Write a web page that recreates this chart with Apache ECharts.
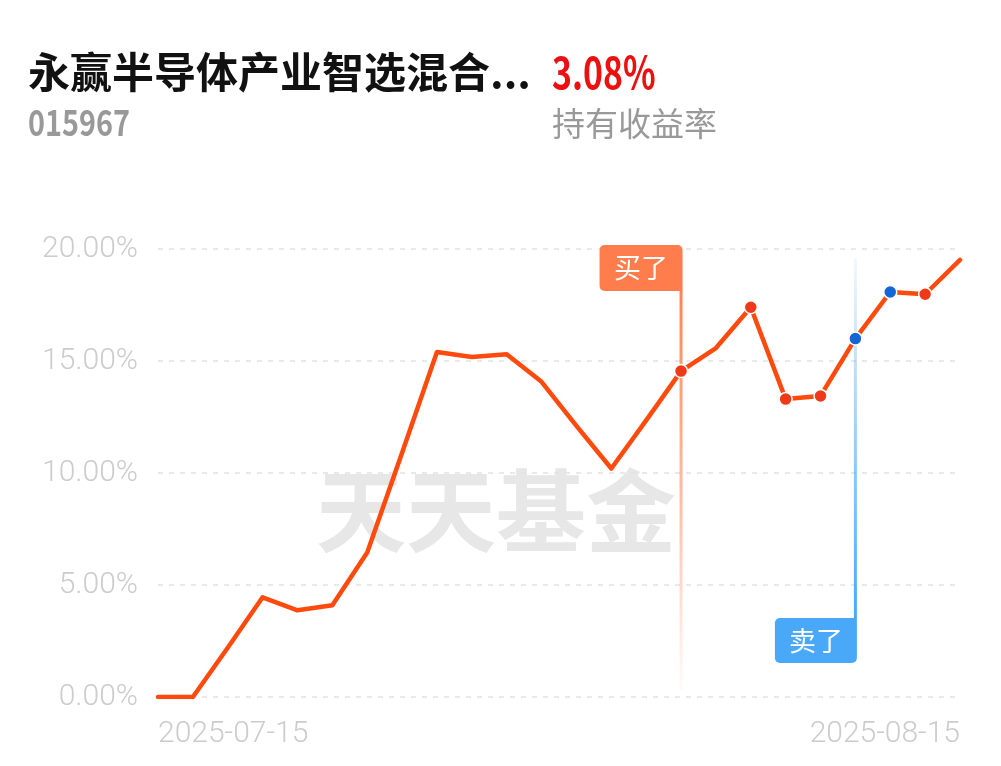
<!DOCTYPE html>
<html>
<head>
<meta charset="utf-8">
<script src="https://cdn.jsdelivr.net/npm/echarts@6/dist/echarts.min.js"></script>
<style>
html,body{margin:0;padding:0;background:#fff;}
#chart{width:1001px;height:766px;}
</style>
</head>
<body>
<div id="chart"></div>
<script>
const fundName = '永赢半导体产业智选混合...';
const fundCode = '015967';
const holdReturn = '3.08%';
const holdReturnLabel = '持有收益率';
const watermarkText = '天天基金';

const dates = ['2025-07-15','2025-07-16','2025-07-17','2025-07-18','2025-07-21','2025-07-22','2025-07-23','2025-07-24','2025-07-25','2025-07-28','2025-07-29','2025-07-30','2025-07-31','2025-08-01','2025-08-04','2025-08-05','2025-08-06','2025-08-07','2025-08-08','2025-08-11','2025-08-12','2025-08-13','2025-08-14','2025-08-15'];
const returns = [0, 0, 2.2, 4.45, 3.87, 4.1, 6.45, 10.9, 15.4, 15.18, 15.3, 14.07, 12.1, 10.2, 12.35, 14.55, 15.58, 17.4, 13.3, 13.44, 16.0, 18.08, 17.98, 19.51];
const yTicks = [0, 5, 10, 15, 20];
const redMarkerDates = ['2025-08-05','2025-08-07','2025-08-08','2025-08-11','2025-08-14'];
const blueMarkerDates = ['2025-08-12','2025-08-13'];
const buyDates = ['2025-08-05'];
const sellDates = ['2025-08-12'];
const buyText = '买了';
const sellText = '卖了';

const valueOf = d => returns[dates.indexOf(d)];
const chart = echarts.init(document.getElementById('chart'), null, {renderer: 'canvas'});

const tradeData = buyDates.map(d => [d, 'buy']).concat(sellDates.map(d => [d, 'sell']));
const boxText = (t) => ({
  textContent: {type: 'text', style: {text: t, fill: '#fff', font: '27px "Noto Sans CJK SC"'}},
  textConfig: {position: 'inside'}
});

const option = {
  animation: false,
  backgroundColor: '#fff',
  grid: {left: 158, right: 41, top: 249, bottom: 69, containLabel: false},
  graphic: [
    {type: 'text', left: 28, top: 51, z: 10, style: {text: fundName, font: 'bold 42px "Noto Sans CJK SC"', fill: '#111'}},
    {type: 'text', x: 552, y: 50, scaleX: 0.77, z: 10, style: {text: holdReturn, font: 'bold 44px "Noto Sans CJK SC"', fill: '#EC1010'}},
    {type: 'text', x: 28, y: 104, scaleX: 0.8, z: 10, style: {text: fundCode, font: 'bold 36px "Noto Sans CJK SC"', fill: '#999'}},
    {type: 'text', left: 552, top: 107, z: 10, style: {text: holdReturnLabel, font: '33px "Noto Sans CJK SC"', fill: '#999'}},
    {type: 'text', left: 316, top: 466, z: 0, style: {text: watermarkText, font: 'bold 90px "Noto Sans CJK SC"', fill: '#E7E7E7'}}
  ],
  xAxis: {
    type: 'category', data: dates, boundaryGap: false,
    axisLine: {show: false}, axisTick: {show: false}, splitLine: {show: false},
    axisLabel: {
      interval: (i) => i === 0 || i === dates.length - 1,
      formatter: (v, i) => (i === 0 || i === dates.length - 1) ? v : '',
      color: '#CCCCCC', fontFamily: 'Roboto', fontWeight: 300, fontSize: 30, margin: 22,
      alignMinLabel: 'left', alignMaxLabel: 'right'
    }
  },
  yAxis: {
    type: 'value', min: yTicks[0], max: yTicks[yTicks.length - 1], interval: yTicks[1] - yTicks[0],
    axisLine: {show: false}, axisTick: {show: false},
    axisLabel: {formatter: v => v.toFixed(2) + '%', color: '#CCCCCC', fontFamily: 'Roboto', fontWeight: 300, fontSize: 30, margin: 20},
    splitLine: {lineStyle: {color: '#E2E2E2', width: 1.5, type: [5, 6]}}
  },
  series: [
    {
      type: 'custom', z: 1, clip: false, silent: true,
      data: tradeData,
      renderItem: function (params, api) {
        const cs = params.coordSys;
        const idx = api.value(0);
        const kind = tradeData[params.dataIndex][1];
        const x = api.coord([idx, 0])[0];
        if (kind === 'buy') {
          const boxTop = cs.y - 4, boxH = 46, boxW = 83;
          const lineBottom = cs.y + cs.height - 7;
          return {type: 'group', children: [
            {type: 'rect', shape: {x: x - 1.5, y: boxTop + boxH, width: 3, height: lineBottom - boxTop - boxH},
              style: {fill: new echarts.graphic.LinearGradient(0, 0, 0, 1, [{offset: 0, color: 'rgba(255,124,76,0.95)'}, {offset: 0.55, color: 'rgba(255,140,100,0.55)'}, {offset: 1, color: 'rgba(255,160,130,0.05)'}])}},
            Object.assign({type: 'rect', shape: {x: x + 1.5 - boxW, y: boxTop, width: boxW, height: boxH, r: [5, 5, 0, 5]},
              style: {fill: '#FF7C4C'}}, boxText(buyText))
          ]};
        } else {
          const lineTop = cs.y + 9, boxTop = cs.y + cs.height - 79, boxH = 45, boxW = 82;
          return {type: 'group', children: [
            {type: 'rect', shape: {x: x - 1.5, y: lineTop, width: 3, height: boxTop - lineTop},
              style: {fill: new echarts.graphic.LinearGradient(0, 0, 0, 1, [{offset: 0, color: 'rgba(74,168,248,0.08)'}, {offset: 0.5, color: 'rgba(74,168,248,0.55)'}, {offset: 1, color: 'rgba(74,168,248,1)'}])}},
            Object.assign({type: 'rect', shape: {x: x + 1.5 - boxW, y: boxTop, width: boxW, height: boxH, r: [5, 0, 5, 5]},
              style: {fill: '#4AA8F8'}}, boxText(sellText))
          ]};
        }
      }
    },
    {
      type: 'line', z: 2, data: returns, symbol: 'none', smooth: false,
      lineStyle: {color: '#FF4A0E', width: 4.5, cap: 'round', join: 'round'}
    },
    {
      type: 'scatter', z: 3, symbolSize: 13,
      data: redMarkerDates.map(d => [d, valueOf(d)]),
      itemStyle: {color: '#EF3A1A', borderColor: '#fff', borderWidth: 1.5, opacity: 1}
    },
    {
      type: 'scatter', z: 3, symbolSize: 13,
      data: blueMarkerDates.map(d => [d, valueOf(d)]),
      itemStyle: {color: '#1565D8', borderColor: '#fff', borderWidth: 1.5, opacity: 1}
    }
  ]
};
chart.setOption(option);
</script>
</body>
</html>
